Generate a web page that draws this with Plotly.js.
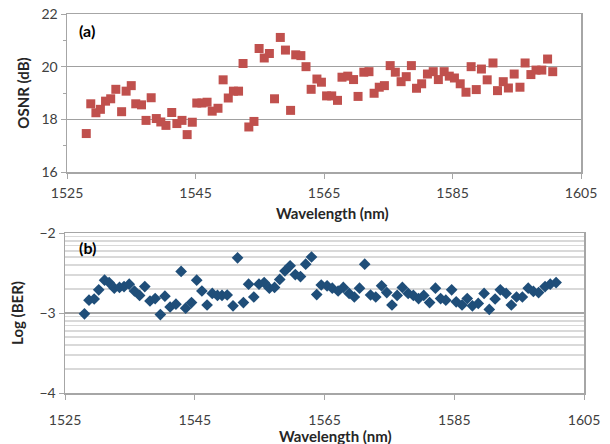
<!DOCTYPE html>
<html>
<head>
<meta charset="utf-8">
<script src="https://cdn.plot.ly/plotly-3.0.1.min.js"></script>
<style>html,body{margin:0;padding:0;background:#fff;}#chart{width:610px;height:444px;}</style>
</head>
<body>
<div id="chart"></div>
<script>
// (a) OSNR vs wavelength
const wlA = [1528.0,1528.7,1529.5,1530.2,1531.0,1531.8,1532.6,1533.5,1534.2,1535.0,1535.7,1536.6,1537.3,1538.1,1538.9,1539.6,1540.4,1541.3,1542.1,1542.9,1543.7,1544.5,1545.2,1546.0,1546.8,1547.6,1548.5,1549.3,1550.1,1550.9,1551.7,1552.4,
  1553.3,1554.1,1554.9,1555.7,1556.5,1557.3,1558.2,1559.0,1559.8,1560.6,1561.4,1562.2,1563.0,1563.9,1564.6,1565.4,1566.2,1567.1,1567.8,1568.7,1569.6,1570.3,1571.2,1572.0,1572.8,1573.6,1574.4,1575.3,1576.1,1577.0,1577.8,
  1578.6,1579.4,1580.2,1581.1,1582.0,1582.8,1583.7,1584.5,1585.3,1586.2,1587.1,1587.9,1588.7,1589.5,1590.4,1591.3,1592.0,1592.9,1593.7,1594.6,1595.5,1596.3,1597.2,1598.0,1598.9,1599.8,1600.6];
const osnr = [17.46,18.59,18.25,18.38,18.69,18.78,19.14,18.29,19.07,19.28,18.59,18.55,17.96,18.82,18.03,17.90,17.77,18.26,17.84,17.96,17.42,17.89,18.62,18.62,18.65,18.31,18.42,19.50,18.81,19.07,19.07,20.12,
  17.71,17.92,20.69,20.33,20.50,18.78,21.11,20.63,18.34,20.45,20.42,20.00,19.14,19.53,19.41,18.89,18.89,18.72,19.60,19.64,19.51,18.87,19.79,19.81,18.99,19.22,19.28,20.04,19.79,19.43,19.62,
  20.04,19.18,19.35,19.72,19.81,19.51,19.81,19.64,19.57,19.35,19.03,20.00,19.13,19.91,19.50,20.14,19.09,19.43,19.19,19.72,19.22,20.14,19.70,19.87,19.87,20.29,19.81];

// (b) Log(BER) vs wavelength
const wlB = [1528.0,1528.7,1529.5,1530.2,1531.1,1531.8,1532.6,1533.4,1534.1,1534.9,1535.7,1536.5,1537.3,1538.1,1538.9,1539.7,1540.4,1541.2,1542.1,1542.9,1543.6,1544.5,1545.3,1546.1,1546.9,1547.7,1548.5,1549.2,1550.0,1550.9,1551.6,1552.5,
  1553.3,1554.1,1554.9,1555.7,1556.5,1557.3,1558.1,1558.9,1559.7,1560.5,1561.3,1562.1,1563.0,1563.8,1564.5,1565.4,
  1566.2,1567.1,1567.9,1568.8,1569.6,1570.4,1571.2,1572.1,1572.9,1573.8,1574.6,1575.4,1576.2,1577.0,1577.9,1578.7,1579.5,1580.3,1581.2,1582.1,1582.9,1583.7,1584.6,1585.3,1586.2,1587.0,1587.8,1588.7,1589.6,1590.4,1591.3,1592.1,1593.0,1593.8,1594.6,1595.5,1596.4,1597.2,1598.0,1599.0,1599.8,1600.7];
const logBer = [-3.01,-2.84,-2.825,-2.71,-2.59,-2.62,-2.69,-2.68,-2.67,-2.64,-2.725,-2.78,-2.67,-2.85,-2.82,-3.02,-2.79,-2.925,-2.89,-2.48,-2.94,-2.87,-2.59,-2.725,-2.90,-2.755,-2.78,-2.78,-2.775,-2.91,-2.31,-2.87,
  -2.64,-2.80,-2.64,-2.62,-2.69,-2.68,-2.58,-2.475,-2.41,-2.52,-2.545,-2.39,-2.30,-2.77,-2.65,-2.66,
  -2.69,-2.725,-2.68,-2.755,-2.80,-2.69,-2.39,-2.775,-2.80,-2.66,-2.745,-2.90,-2.78,-2.68,-2.755,-2.78,-2.82,-2.78,-2.87,-2.69,-2.82,-2.84,-2.71,-2.86,-2.90,-2.82,-2.91,-2.88,-2.755,-2.955,-2.825,-2.71,-2.755,-2.90,-2.80,-2.80,-2.69,-2.73,-2.745,-2.67,-2.64,-2.62];

const xTicks = [1525,1545,1565,1585,1605];

// log-style minor grid positions for the BER axis (decade subdivisions)
const berMinor = [];
[-4,-3].forEach(d => { for (let k = 2; k <= 9; k++) berMinor.push(d + Math.log10(k)); });

const tickFont = {family: 'Lato, "Open Sans", sans-serif', size: 14, color: '#404040'};
const titleFont = {family: 'Lato, "Open Sans", sans-serif', size: 15, color: '#262626', weight: 'bold'};

const baseX = {
  range: [1525, 1605], tickmode: 'array', tickvals: xTicks, ticktext: xTicks.map(String),
  showgrid: false, zeroline: false, showline: true, linecolor: '#a6a6a6', linewidth: 1.5,
  mirror: true, ticks: 'outside', ticklen: 5, tickcolor: '#a6a6a6', tickfont: tickFont
};

const traces = [
  {x: wlA, y: osnr, xaxis: 'x', yaxis: 'y', type: 'scatter', mode: 'markers',
   marker: {symbol: 'square', size: 9, color: '#c0504d'}, showlegend: false},
  {x: wlB, y: logBer, xaxis: 'x2', yaxis: 'y2', type: 'scatter', mode: 'markers',
   marker: {symbol: 'diamond', size: 9, color: '#1f4e79'}, showlegend: false}
];

const layout = {
  width: 610, height: 444,
  margin: {l: 0, r: 0, t: 0, b: 0},
  paper_bgcolor: '#fff', plot_bgcolor: '#fff',
  showlegend: false,
  xaxis: Object.assign({}, baseX, {domain: [67/610, 581/610], anchor: 'y', ticklabelstandoff: 3}),
  yaxis: {
    domain: [1 - 172/444, 1 - 14/444], anchor: 'x', range: [16, 22], dtick: 2, tick0: 16,
    showgrid: true, gridcolor: '#a0a0a0', gridwidth: 1.5, zeroline: false,
    showline: true, linecolor: '#a6a6a6', linewidth: 1.5, mirror: true,
    ticks: 'outside', ticklen: 5, tickcolor: '#a6a6a6', tickfont: tickFont,
    minor: {dtick: 1, ticks: 'outside', ticklen: 3, tickcolor: '#a6a6a6', showgrid: false},
    title: {text: 'OSNR (dB)', font: titleFont, standoff: 8}
  },
  xaxis2: Object.assign({}, baseX, {domain: [65/610, 584/610], anchor: 'y2', ticklabelstandoff: 9}),
  yaxis2: {
    domain: [1 - 393/444, 1 - 233/444], anchor: 'x2', range: [-4, -2], dtick: 1, tick0: -4,
    showgrid: true, gridcolor: '#a6a6a6', gridwidth: 1.5, zeroline: false,
    showline: true, linecolor: '#a6a6a6', linewidth: 1.5, mirror: true,
    ticks: 'outside', ticklen: 5, tickcolor: '#a6a6a6', tickfont: tickFont,
    minor: {tickmode: 'array', tickvals: berMinor, showgrid: true, gridcolor: '#d9d9d9', gridwidth: 1.5, ticks: ''},
    title: {text: 'Log (BER)', font: titleFont, standoff: 12}
  },
  annotations: [
    {text: '<b>(a)</b>', xref: 'paper', yref: 'paper', x: 77/610, y: 1 - 31/444, xanchor: 'left', yanchor: 'middle', showarrow: false,
     font: {family: 'Lato, sans-serif', size: 16, color: '#000'}},
    {text: '<b>(b)</b>', xref: 'paper', yref: 'paper', x: 77/610, y: 1 - 247/444, xanchor: 'left', yanchor: 'middle', showarrow: false,
     font: {family: 'Lato, sans-serif', size: 16, color: '#000'}},
    {text: '<b>Wavelength (nm)</b>', xref: 'paper', yref: 'paper', x: 332/610, y: 1 - 213/444, xanchor: 'center', yanchor: 'middle', showarrow: false,
     borderpad: 0, font: {family: 'Lato, sans-serif', size: 15, color: '#262626'}},
    {text: '<b>Wavelength (nm)</b>', xref: 'paper', yref: 'paper', x: 335/610, y: 1 - 436/444, xanchor: 'center', yanchor: 'middle', showarrow: false,
     borderpad: 0, font: {family: 'Lato, sans-serif', size: 15, color: '#262626'}}
  ]
};

Plotly.newPlot('chart', traces, layout, {displayModeBar: false, staticPlot: true});
</script>
</body>
</html>
